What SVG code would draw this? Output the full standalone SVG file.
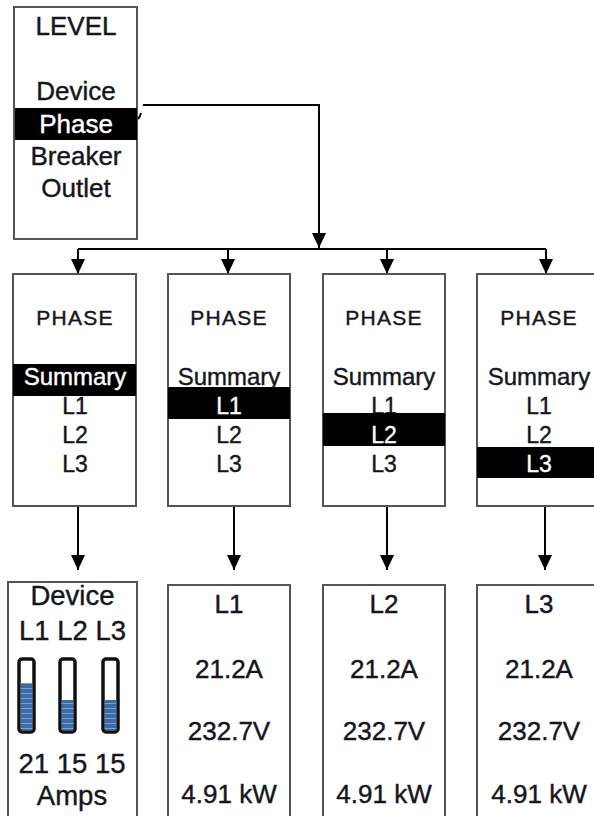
<svg xmlns="http://www.w3.org/2000/svg" width="594" height="816" viewBox="0 0 594 816">
<defs>
<marker id="ah" viewBox="0 0 15 14" refX="15" refY="7" markerWidth="15" markerHeight="14" markerUnits="userSpaceOnUse" orient="auto">
<path d="M0,0 L15,7 L0,14 z" fill="#000"/>
</marker>
<pattern id="stripe" x="0" y="0" width="10" height="5" patternUnits="userSpaceOnUse">
<rect width="10" height="5" fill="#3d6aa8"/>
<rect y="3" width="10" height="1" fill="#7d9fd0"/>
</pattern>
</defs>
<style>
.box{fill:#fff;stroke:#555;stroke-width:2}
.hl{fill:#000}
.t{font-family:"Liberation Sans",Arial,sans-serif;fill:#151520;stroke:#151520;stroke-width:0.4px;text-anchor:middle}
.w{fill:#fff;stroke:#fff}
.ph{font-size:21px;letter-spacing:1.3px}
.sm{font-size:24px}
.ln{font-size:23px}
.big{font-size:26px}
.dv{font-size:27.5px}
.con{fill:none;stroke:#000;stroke-width:2}
.bar{fill:#fff;stroke:#111;stroke-width:3.5}
</style>
<rect width="594" height="816" fill="#fff"/>

<g id="level">
<rect class="box" x="14" y="7" width="123" height="232"/>
<text class="t big" x="76" y="35">LEVEL</text>
<text class="t big" x="76" y="100">Device</text>
<rect class="hl" x="15" y="108" width="122" height="32"/>
<text class="t big w" x="76" y="133">Phase</text>
<text class="t big" x="76" y="165">Breaker</text>
<text class="t big" x="76" y="197">Outlet</text>
</g>

<g id="connectors">
<path class="con" d="M143,105 H319 V248" marker-end="url(#ah)"/>
<path class="con" d="M141,113 Q140,117 138,119"/>
<path class="con" d="M78,249 H546"/>
<path class="con" d="M78,249 V274" marker-end="url(#ah)"/>
<path class="con" d="M228,249 V274" marker-end="url(#ah)"/>
<path class="con" d="M387,249 V274" marker-end="url(#ah)"/>
<path class="con" d="M546,249 V274" marker-end="url(#ah)"/>
<path class="con" d="M78,506 V570" marker-end="url(#ah)"/>
<path class="con" d="M234,506 V570" marker-end="url(#ah)"/>
<path class="con" d="M387,506 V570" marker-end="url(#ah)"/>
<path class="con" d="M545,506 V570" marker-end="url(#ah)"/>
</g>

<g id="phase-summary">
<rect class="box" x="13" y="274" width="123" height="232"/>
<text class="t ph" x="75" y="325">PHASE</text>
<rect class="hl" x="13" y="364" width="123" height="32"/>
<text class="t sm w" x="75" y="385">Summary</text>
<text class="t ln" x="75" y="414">L1</text>
<text class="t ln" x="75" y="443">L2</text>
<text class="t ln" x="75" y="472">L3</text>
</g>

<g id="phase-l1">
<rect class="box" x="168" y="274" width="122" height="232"/>
<text class="t ph" x="229" y="325">PHASE</text>
<text class="t sm" x="229" y="385">Summary</text>
<rect class="hl" x="168" y="387" width="122" height="32"/>
<text class="t ln w" x="229" y="414">L1</text>
<text class="t ln" x="229" y="443">L2</text>
<text class="t ln" x="229" y="472">L3</text>
</g>

<g id="phase-l2">
<rect class="box" x="323" y="274" width="122" height="232"/>
<text class="t ph" x="384" y="325">PHASE</text>
<text class="t sm" x="384" y="385">Summary</text>
<text class="t ln" x="384" y="414">L1</text>
<rect class="hl" x="323" y="413" width="122" height="33"/>
<text class="t ln w" x="384" y="443">L2</text>
<text class="t ln" x="384" y="472">L3</text>
</g>

<g id="phase-l3">
<rect class="box" x="477" y="274" width="123" height="232"/>
<text class="t ph" x="539" y="325">PHASE</text>
<text class="t sm" x="539" y="385">Summary</text>
<text class="t ln" x="539" y="414">L1</text>
<text class="t ln" x="539" y="443">L2</text>
<rect class="hl" x="477" y="447" width="123" height="31"/>
<text class="t ln w" x="539" y="472">L3</text>
</g>

<g id="device-amps">
<rect class="box" x="8" y="582" width="129" height="240"/>
<text class="t dv" x="72.5" y="605">Device</text>
<text class="t dv" x="72.5" y="640">L1 L2 L3</text>
<rect class="bar" x="19" y="659" width="15" height="73" rx="3"/>
<rect x="20.75" y="683" width="11.5" height="47.25" fill="url(#stripe)"/>
<rect class="bar" x="60" y="659" width="15" height="73" rx="3"/>
<rect x="61.75" y="700" width="11.5" height="30.25" fill="url(#stripe)"/>
<rect class="bar" x="103" y="659" width="15" height="73" rx="3"/>
<rect x="104.75" y="700" width="11.5" height="30.25" fill="url(#stripe)"/>
<text class="t dv" x="72" y="773">21 15 15</text>
<text class="t dv" x="72" y="805">Amps</text>
</g>

<g id="detail-l1">
<rect class="box" x="168" y="585" width="122" height="240"/>
<text class="t big" x="229" y="613">L1</text>
<text class="t big" x="229" y="678">21.2A</text>
<text class="t big" x="229" y="740">232.7V</text>
<text class="t big" x="229" y="803">4.91 kW</text>
</g>

<g id="detail-l2">
<rect class="box" x="323" y="585" width="122" height="240"/>
<text class="t big" x="384" y="613">L2</text>
<text class="t big" x="384" y="678">21.2A</text>
<text class="t big" x="384" y="740">232.7V</text>
<text class="t big" x="384" y="803">4.91 kW</text>
</g>

<g id="detail-l3">
<rect class="box" x="477" y="585" width="123" height="240"/>
<text class="t big" x="539" y="613">L3</text>
<text class="t big" x="539" y="678">21.2A</text>
<text class="t big" x="539" y="740">232.7V</text>
<text class="t big" x="539" y="803">4.91 kW</text>
</g>
</svg>
